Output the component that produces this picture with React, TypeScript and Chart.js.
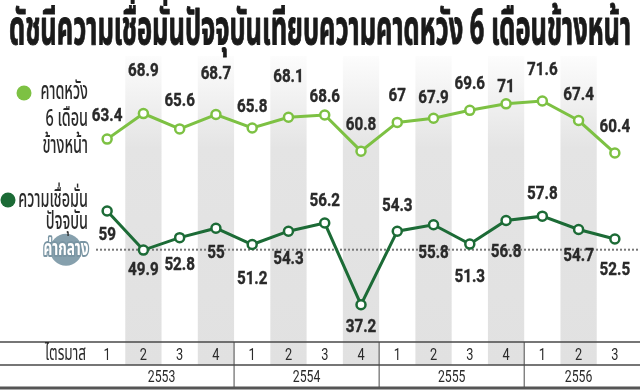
import { useEffect, useRef } from 'react';
import { Chart, registerables } from 'chart.js';

Chart.register(...registerables);

const titleText = 'ดัชนีความเชื่อมั่นปัจจุบันเทียบความคาดหวัง 6 เดือนข้างหน้า';
const quarters = ['1', '2', '3', '4', '1', '2', '3', '4', '1', '2', '3', '4', '1', '2', '3'];
const years = ['2553', '2554', '2555', '2556'];
const quartersPerYear = [4, 4, 4, 3];
const expectation = [63.4, 68.9, 65.6, 68.7, 65.8, 68.1, 68.6, 60.8, 67, 67.9, 69.6, 71, 71.6, 67.4, 60.4];
const current = [59, 49.9, 52.8, 55, 51.2, 54.3, 56.2, 37.2, 54.3, 55.8, 51.3, 56.8, 57.8, 54.7, 52.5];
const medianValue = 50;
const expectationLegend = ['คาดหวัง', '6 เดือน', 'ข้างหน้า'];
const currentLegend = ['ความเชื่อมั่น', 'ปัจจุบัน'];
const medianText = 'ค่ากลาง';
const rowText = 'ไตรมาส';

// label placement (style): vertical offset of each value label from its point, in px
const expectationLabelOffsets = [-23, -42, -28, -40, -21, -40, -18, -26, -26, -20, -26, -17, -31, -25, -26];
const currentLabelOffsets = [24, 20, 28, 25, 35, 28, -22, 23, -25, 28, 33, 32, -22, 27, 31];

const LIGHT = '#7dc143';
const DARK = '#1c6b36';
const TEXT = '#2a2a2a';
const THAI = "'Noto Sans Thai', 'Noto Sans', 'DejaVu Sans', sans-serif";
const NUM = "Roboto, 'Liberation Sans', sans-serif";

function txt(
  ctx: CanvasRenderingContext2D,
  s: string,
  x: number,
  y: number,
  font: string,
  align: CanvasTextAlign,
  sx: number,
  color: string,
  sy = 1,
  baseline: CanvasTextBaseline = 'alphabetic',
  strokeW = 0
) {
  ctx.save();
  ctx.font = font;
  ctx.textAlign = align;
  ctx.textBaseline = baseline;
  ctx.translate(x, y);
  ctx.scale(sx, sy);
  ctx.fillStyle = color;
  ctx.fillText(s, 0, 0);
  if (strokeW > 0) {
    ctx.strokeStyle = color;
    ctx.lineWidth = strokeW;
    ctx.lineJoin = 'round';
    ctx.strokeText(s, 0, 0);
  }
  ctx.restore();
}

const decorPlugin = {
  id: 'decor',
  beforeDraw(chart: any) {
    const ctx: CanvasRenderingContext2D = chart.ctx;
    const x = chart.scales.x;
    const yC = chart.scales.yC;
    const W = chart.width;
    const colW = x.getPixelForValue(1) - x.getPixelForValue(0);
    ctx.save();
    ctx.fillStyle = '#ffffff';
    ctx.fillRect(0, 0, W, chart.height);
    // alternating bands
    const g = ctx.createLinearGradient(0, 56, 0, 365);
    g.addColorStop(0, 'rgba(228,228,228,0.1)');
    g.addColorStop(0.3, 'rgba(228,228,228,1)');
    g.addColorStop(1, 'rgba(225,225,225,1)');
    ctx.fillStyle = g;
    for (let i = 1; i < quarters.length; i += 2) {
      const cx = x.getPixelForValue(i);
      ctx.fillRect(cx - colW / 2, 56, colW, 365 - 56);
    }
    // table lines
    ctx.strokeStyle = '#4a4a4a';
    ctx.lineWidth = 1.5;
    ctx.beginPath();
    ctx.moveTo(0, 342);
    ctx.lineTo(W, 342);
    ctx.moveTo(0, 365);
    ctx.lineTo(W, 365);
    ctx.stroke();
    ctx.lineWidth = 3;
    ctx.strokeStyle = '#555555';
    ctx.beginPath();
    ctx.moveTo(0, 388);
    ctx.lineTo(W, 388);
    ctx.stroke();
    // year separators
    ctx.lineWidth = 1;
    ctx.strokeStyle = '#4a4a4a';
    let idx = 0;
    years.forEach((yr, k) => {
      const n = quartersPerYear[k];
      const left = x.getPixelForValue(idx) - colW / 2;
      const right = x.getPixelForValue(idx + n - 1) + colW / 2;
      if (k > 0) {
        ctx.beginPath();
        ctx.moveTo(left, 342);
        ctx.lineTo(left, 387);
        ctx.stroke();
      }
      txt(ctx, yr, (left + right) / 2, 382, `17px ${NUM}`, 'center', 0.72, TEXT);
      idx += n;
    });
    quarters.forEach((q, i) => {
      txt(ctx, q, x.getPixelForValue(i), 360, `17px ${NUM}`, 'center', 0.75, TEXT);
    });
    txt(ctx, rowText, 86, 360, `22px ${THAI}`, 'right', 0.62, TEXT);
    // median line
    const my = yC.getPixelForValue(medianValue);
    ctx.strokeStyle = '#777777';
    ctx.lineWidth = 2;
    ctx.setLineDash([2, 2]);
    ctx.beginPath();
    ctx.moveTo(96, my);
    ctx.lineTo(W, my);
    ctx.stroke();
    ctx.setLineDash([]);
    // median badge
    ctx.fillStyle = '#86a0ad';
    ctx.beginPath();
    ctx.arc(66, my, 16, 0, Math.PI * 2);
    ctx.fill();
    ctx.save();
    ctx.font = `bold 22px ${THAI}`;
    ctx.textAlign = 'center';
    ctx.textBaseline = 'middle';
    ctx.translate(66, my + 1);
    ctx.scale(0.62, 1);
    ctx.lineWidth = 4;
    ctx.lineJoin = 'round';
    ctx.strokeStyle = '#7a95a3';
    ctx.strokeText(medianText, 0, 0);
    ctx.fillStyle = '#ffffff';
    ctx.fillText(medianText, 0, 0);
    ctx.restore();
    // title
    ctx.save();
    ctx.font = `bold 38px ${THAI}`;
    const tw = ctx.measureText(titleText).width;
    ctx.restore();
    txt(ctx, titleText, 9, 44, `bold 38px ${THAI}`, 'left', 622 / tw, '#1a1a1a', 1.25, 'alphabetic', 0.8);
    // legends
    ctx.fillStyle = LIGHT;
    ctx.beginPath();
    ctx.arc(24, 93, 7.5, 0, Math.PI * 2);
    ctx.fill();
    expectationLegend.forEach((s, i) => {
      txt(ctx, s, 88, 99 + i * 27, `500 24px ${THAI}`, 'right', 0.6, TEXT);
    });
    ctx.fillStyle = DARK;
    ctx.beginPath();
    ctx.arc(8, 200, 7.5, 0, Math.PI * 2);
    ctx.fill();
    currentLegend.forEach((s, i) => {
      txt(ctx, s, 88, 207 + i * 22, `500 24px ${THAI}`, 'right', 0.6, TEXT);
    });
    ctx.restore();
  },
  afterDatasetsDraw(chart: any) {
    const ctx: CanvasRenderingContext2D = chart.ctx;
    const sets = [
      { data: expectation, offs: expectationLabelOffsets, meta: chart.getDatasetMeta(0) },
      { data: current, offs: currentLabelOffsets, meta: chart.getDatasetMeta(1) },
    ];
    sets.forEach(({ data, offs, meta }) => {
      data.forEach((v, i) => {
        const el = meta.data[i];
        txt(ctx, String(v), el.x, el.y + offs[i], `bold 19px ${NUM}`, 'center', 0.8, TEXT, 1, 'middle', 0.4);
      });
    });
  },
};

export default function App() {
  const ref = useRef<HTMLCanvasElement | null>(null);
  useEffect(() => {
    if (!ref.current) return;
    const chart = new Chart(ref.current, {
      type: 'line',
      data: {
        labels: quarters,
        datasets: [
          {
            data: expectation,
            yAxisID: 'yE',
            borderColor: LIGHT,
            borderWidth: 3,
            pointRadius: 4.5,
            pointBorderWidth: 2.5,
            pointBackgroundColor: '#ffffff',
            pointBorderColor: LIGHT,
            tension: 0,
          },
          {
            data: current,
            yAxisID: 'yC',
            borderColor: DARK,
            borderWidth: 3,
            pointRadius: 4.5,
            pointBorderWidth: 2.5,
            pointBackgroundColor: '#ffffff',
            pointBorderColor: DARK,
            tension: 0,
          },
        ],
      },
      options: {
        animation: false,
        responsive: false,
        maintainAspectRatio: false,
        layout: { padding: { left: 89, right: 4, top: 60, bottom: 48 } },
        scales: {
          x: { type: 'category', display: false, offset: true },
          yE: { type: 'linear', display: false, min: 19.7, max: 80.44 },
          yC: { type: 'linear', display: false, min: 28.53, max: 94.12 },
        },
        plugins: {
          legend: { display: false },
          tooltip: { enabled: false },
          title: { display: false },
        },
      },
      plugins: [decorPlugin],
    });
    return () => chart.destroy();
  }, []);
  return (
    <div style={{ position: 'fixed', left: 0, top: 0, width: 640, height: 390, background: '#fff' }}>
      <canvas ref={ref} width={640} height={390} style={{ width: 640, height: 390, display: 'block' }} />
    </div>
  );
}
